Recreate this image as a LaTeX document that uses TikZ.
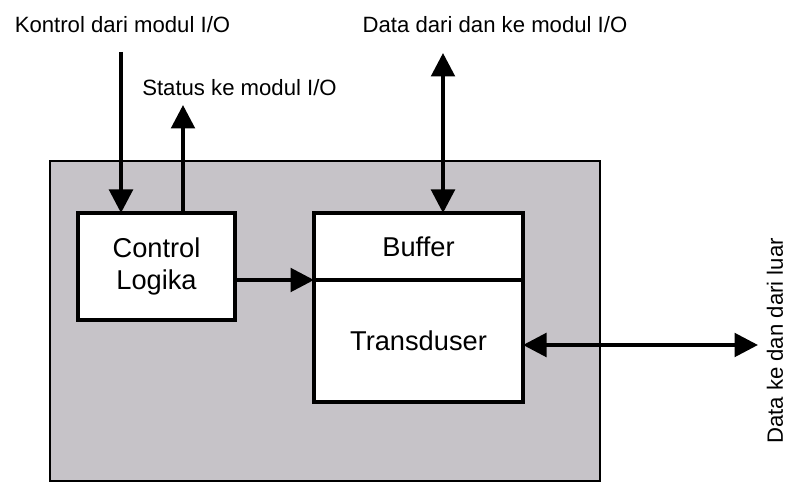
\documentclass[tikz,border=0pt]{standalone}
\usepackage{fontspec}
\setmainfont{Liberation Sans}
\usetikzlibrary{positioning,arrows.meta}
\definecolor{abu}{RGB}{198,195,200}

\begin{document}
\begin{tikzpicture}[
  kotak/.style={draw, line width=2pt, fill=white, inner sep=0pt, outer sep=0pt,
    align=center, font=\fontsize{15.5}{18}\selectfont},
  teks/.style={font=\fontsize{12.6}{15}\selectfont},
  panah/.style={line width=2.2pt, -{Triangle[length=0.47cm,width=0.47cm]}},
  dua/.style={line width=2.2pt, {Triangle[length=0.47cm,width=0.47cm]}-{Triangle[length=0.47cm,width=0.47cm]}}
]
  \useasboundingbox (0,0) rectangle (15.72,9.64);

  % Modul I/O
  \node[draw, fill=abu, line width=1.2pt, minimum width=11cm, minimum height=6.4cm] (modul) at (6.5,3.22) {};

  % Blok di dalam modul
  \node[kotak, minimum width=3.14cm, minimum height=2.14cm] (ctrl) at (3.13,4.31) {Control\\Logika};
  \node[kotak, minimum width=4.18cm, minimum height=1.34cm] (buf) at (8.37,4.71) {Buffer};
  \node[kotak, minimum width=4.18cm, minimum height=2.44cm, below=0cm of buf] (trans) {Transduser};

  % Teks
  \node[teks] (kontrol) at (2.45,9.14) {Kontrol dari modul I/O};
  \node[teks] (status) at (4.79,7.88) {Status ke modul I/O};
  \node[teks] (data) at (9.9,9.14) {Data dari dan ke modul I/O};
  \node[teks, rotate=90, inner sep=0pt] (luar) at (15.5,2.82) {Data ke dan dari luar};

  % Ujung panah
  \coordinate (kin) at (2.42,8.6);
  \coordinate (sout) at (3.66,7.54);
  \coordinate (dio) at (8.86,8.58);
  \coordinate (lio) at (15.16,2.74);

  % Panah
  \draw[panah] (kin) -- (kin |- ctrl.north);
  \draw[panah] (sout |- ctrl.north) -- (sout);
  \draw[dua] (dio) -- (dio |- buf.north);
  \draw[panah] (ctrl.east |- buf.south) -- (buf.south west);
  \draw[dua] (trans.east |- lio) -- (lio);
\end{tikzpicture}
\end{document}
